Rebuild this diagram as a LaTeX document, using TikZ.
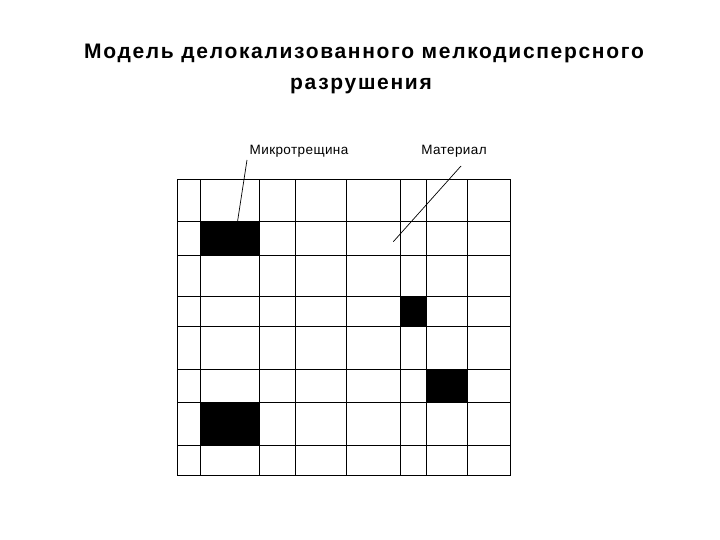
\documentclass[tikz,border=0pt]{standalone}
\usepackage{fontspec}
\setmainfont{Liberation Sans}
\newfontfamily\ttlfont[LetterSpace=8]{Liberation Sans}
\newfontfamily\lblfont[LetterSpace=3]{Liberation Sans}
\begin{document}
\begin{tikzpicture}[x=1pt,y=-1pt,
  gridline/.style={line width=1pt,line cap=rect},
  crack/.style={fill=black},
  leader/.style={line width=0.7pt},
  ttl/.style={font=\ttlfont\bfseries\fontsize{21}{24}\selectfont,anchor=base,inner sep=0pt},
  lbl/.style={font=\lblfont\fontsize{13.5}{16}\selectfont,anchor=base,inner sep=0pt}]
\useasboundingbox (0,0) rectangle (720,540);
% title
\node[ttl] (title1) at (364,58.5) {Модель делокализованного мелкодисперсного};
\node[ttl] (title2) at (361,90) {разрушения};
% labels
\node[lbl] (micro) at (299,155) {Микротрещина};
\node[lbl] (mat) at (454,155) {Материал};
% black cells (microcracks)
\fill[crack] (200.7,221.7) rectangle (259,255);
\fill[crack] (400.7,296.7) rectangle (426.7,326);
\fill[crack] (426.7,369.3) rectangle (467.7,402.7);
\fill[crack] (200.7,402.7) rectangle (259,445.3);
% grid
\foreach \x in {177,200.7,259,295.7,346.7,400.7,426.7,467.7,510}
  \draw[gridline] (\x,180) -- (\x,475);
\foreach \y in {180,221.7,255,296.7,326,369.3,402.7,445.3,475}
  \draw[gridline] (177,\y) -- (510,\y);
% leaders
\coordinate (l1top) at (247,160);
\coordinate (l1end) at (237.5,221.7);
\coordinate (l2top) at (461,166);
\coordinate (l2end) at (393.3,241.7);
\draw[leader] (l1top) -- (l1end);
\draw[leader] (l2top) -- (l2end);
\end{tikzpicture}
\end{document}
